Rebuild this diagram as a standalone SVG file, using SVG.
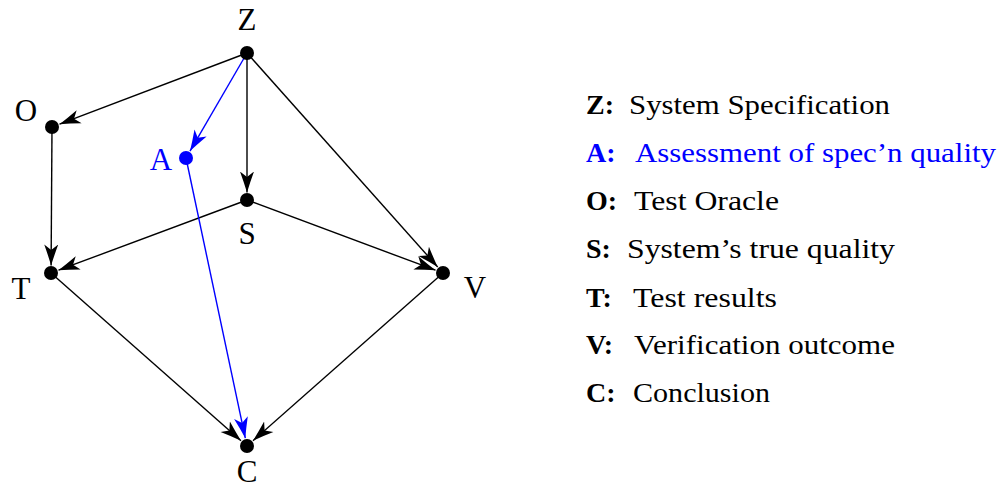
<svg xmlns="http://www.w3.org/2000/svg" width="1001" height="491" viewBox="0 0 1001 491">
<style>
.lbl{font-family:"Liberation Serif","Times New Roman",serif;font-size:31px;fill:#000}
.blue{fill:#0000ff}
.e{stroke:#000;stroke-width:1.4;fill:none;marker-end:url(#ak)}
.eb{stroke:#0000ff;stroke-width:1.4;fill:none;marker-end:url(#ab)}
.leg{font-family:"Liberation Serif","Times New Roman",serif;font-size:28px;fill:#000}
.leg .b{font-weight:bold}
</style>
<defs>
<marker id="ak" markerUnits="userSpaceOnUse" orient="auto" markerWidth="22" markerHeight="16" refX="21" refY="8">
<path d="M21,8 Q11,5 0,1 L5.5,8 L0,15 Q11,11 21,8 Z" fill="#000"/>
</marker>
<marker id="ab" markerUnits="userSpaceOnUse" orient="auto" markerWidth="22" markerHeight="16" refX="21" refY="8">
<path d="M21,8 Q11,5 0,1 L5.5,8 L0,15 Q11,11 21,8 Z" fill="#0000ff"/>
</marker>
</defs>
<rect width="1001" height="491" fill="#fff"/>
<g id="connectors">
<line class="e" x1="247" y1="53" x2="59.5" y2="124.2"/>
<line class="eb" x1="247" y1="53" x2="190" y2="151.1"/>
<line class="e" x1="247" y1="53" x2="247" y2="192.5"/>
<line class="e" x1="247" y1="53" x2="437.7" y2="267"/>
<line class="e" x1="52" y1="127" x2="51.1" y2="265.5"/>
<line class="e" x1="247" y1="200" x2="58.5" y2="270.2"/>
<line class="e" x1="247" y1="200" x2="435.5" y2="270.2"/>
<line class="e" x1="51" y1="273" x2="241" y2="440.7"/>
<line class="e" x1="443" y1="273" x2="253" y2="440.7"/>
<line class="eb" x1="186" y1="158" x2="245.3" y2="438.2"/>
</g>
<g id="node-Z"><circle cx="247" cy="53" r="7"/><text class="lbl" x="247" y="30" text-anchor="middle">Z</text></g>
<g id="node-O"><circle cx="52" cy="127" r="7"/><text class="lbl" x="26" y="121" text-anchor="middle">O</text></g>
<g id="node-A"><circle cx="186" cy="158" r="7" fill="#0000ff"/><text class="lbl blue" x="161" y="170" text-anchor="middle">A</text></g>
<g id="node-S"><circle cx="247" cy="200" r="7"/><text class="lbl" x="247" y="244" text-anchor="middle">S</text></g>
<g id="node-T"><circle cx="51" cy="273" r="7"/><text class="lbl" x="21" y="299" text-anchor="middle">T</text></g>
<g id="node-V"><circle cx="443" cy="273" r="7"/><text class="lbl" x="475" y="298" text-anchor="middle">V</text></g>
<g id="node-C"><circle cx="247" cy="446" r="7"/><text class="lbl" x="247" y="482" text-anchor="middle">C</text></g>
<g id="legend" class="leg">
<text x="586" y="114"><tspan class="b">Z:</tspan><tspan x="629" textLength="261" lengthAdjust="spacingAndGlyphs">System Specification</tspan></text>
<text x="586" y="162" class="blue"><tspan class="b">A:</tspan><tspan x="635" textLength="361" lengthAdjust="spacingAndGlyphs">Assessment of spec’n quality</tspan></text>
<text x="586" y="210"><tspan class="b">O:</tspan><tspan x="634" textLength="145" lengthAdjust="spacingAndGlyphs">Test Oracle</tspan></text>
<text x="586" y="258"><tspan class="b">S:</tspan><tspan x="627" textLength="268" lengthAdjust="spacingAndGlyphs">System’s true quality</tspan></text>
<text x="586" y="307"><tspan class="b">T:</tspan><tspan x="633" textLength="144" lengthAdjust="spacingAndGlyphs">Test results</tspan></text>
<text x="586" y="354"><tspan class="b">V:</tspan><tspan x="634" textLength="261" lengthAdjust="spacingAndGlyphs">Verification outcome</tspan></text>
<text x="586" y="402"><tspan class="b">C:</tspan><tspan x="633" textLength="137" lengthAdjust="spacingAndGlyphs">Conclusion</tspan></text>
</g>
</svg>
